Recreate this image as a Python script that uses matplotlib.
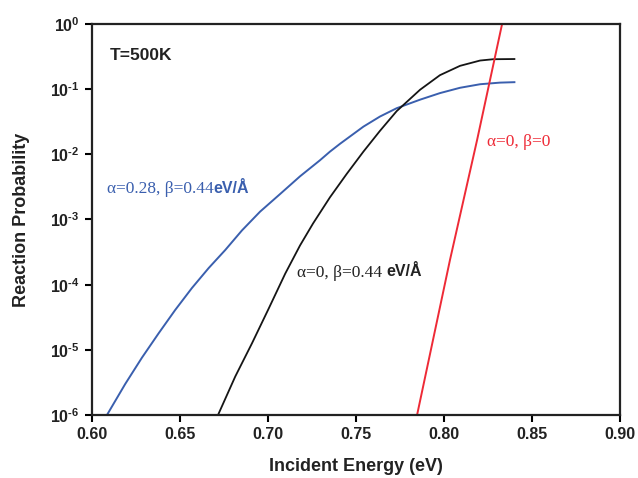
import numpy as np
import matplotlib
matplotlib.use('Agg')
import matplotlib.pyplot as plt

plt.rcParams['font.family'] = ['Liberation Sans', 'DejaVu Sans']
plt.rcParams['mathtext.fontset'] = 'custom'
plt.rcParams['mathtext.rm'] = 'Liberation Sans:bold'
plt.rcParams['mathtext.bf'] = 'Liberation Sans:bold'
plt.rcParams['axes.unicode_minus'] = False

# incident energy (eV) and reaction probability for each parameter set
energy_a028 = [0.6085, 0.6189, 0.6284, 0.6379, 0.6473, 0.6568, 0.6663, 0.6757,
               0.6852, 0.6955, 0.7068, 0.7182, 0.7295, 0.7352, 0.7409, 0.7542,
               0.7636, 0.7731, 0.7864, 0.7977, 0.8091, 0.8205, 0.8318, 0.840]
prob_a028 = [1.0e-6, 3.0e-6, 7.6e-6, 1.8e-5, 4.1e-5, 8.9e-5, 1.8e-4, 3.4e-4,
             6.8e-4, 1.32e-3, 2.45e-3, 4.6e-3, 8.1e-3, 1.1e-2, 1.45e-2, 2.66e-2,
             3.8e-2, 5.1e-2, 6.9e-2, 8.7e-2, 0.105, 0.119, 0.126, 0.128]

energy_a0 = [0.6716, 0.6814, 0.6909, 0.7004, 0.7098, 0.7182, 0.7256, 0.7352,
             0.7447, 0.7542, 0.7636, 0.7731, 0.7864, 0.7977, 0.8091, 0.8205,
             0.828, 0.840]
prob_a0 = [1.0e-6, 3.9e-6, 1.26e-5, 4.3e-5, 1.48e-4, 4.0e-4, 8.7e-4, 2.19e-3,
           5.0e-3, 1.1e-2, 2.29e-2, 4.6e-2, 0.098, 0.164, 0.228, 0.275,
           0.288, 0.290]

energy_b0 = [0.7847, 0.8034, 0.8188, 0.833]
prob_b0 = [1.0e-6, 2.4e-4, 1.66e-2, 1.0]

xticks = [0.60, 0.65, 0.70, 0.75, 0.80, 0.85, 0.90]
yticks = [1e-6, 1e-5, 1e-4, 1e-3, 1e-2, 1e-1, 1e0]

blue = '#3a5fae'
red = '#ee2a36'
serif = ['Liberation Serif', 'DejaVu Serif']


def decade_label(v):
    e = int(np.log10(v))
    if e < 0:
        return r'$\mathbf{10}^{\text{-}\mathbf{%d}}$' % -e
    return r'$\mathbf{10}^{\mathbf{%d}}$' % e


fig = plt.figure(figsize=(6.38, 4.78), dpi=100)
ax = fig.add_axes([0.1442, 0.1318, 0.8276, 0.818])

ax.plot(energy_a028, prob_a028, color=blue, lw=1.4)
ax.plot(energy_a0, prob_a0, color='#151515', lw=1.3)
ax.plot(energy_b0, prob_b0, color=red, lw=1.4)

ax.set_yscale('log')
ax.set_xlim(0.60, 0.90)
ax.set_ylim(1e-6, 1e0)
ax.set_xticks(xticks)
ax.set_xticklabels(['%.2f' % v for v in xticks], fontweight='bold', fontsize=11.5, color='#222222')
ax.set_yticks(yticks)
ax.set_yticklabels([decade_label(v) for v in yticks], fontsize=11.5, color='#222222')
ax.minorticks_off()
ax.tick_params(direction='out', length=5, width=1.5, top=False, right=False, pad=4)
for s in ax.spines.values():
    s.set_linewidth(1.6)
    s.set_color('#222222')

ax.set_xlabel('Incident Energy (eV)', fontsize=13, fontweight='bold', color='#222222', labelpad=11)
ax.set_ylabel('Reaction Probability', fontsize=13, fontweight='bold', color='#222222', labelpad=14)

ax.text(0.6102, 0.33, 'T=500K', fontsize=12.5, fontweight='bold', color='#222222', va='center')

# curve labels: greek part in serif, units in bold sans
t1 = ax.text(0.6085, 2.2e-3, 'α=0.28, β=0.44', fontsize=12.5, color=blue,
             family=serif, va='bottom')
ax.annotate('eV/Å', xy=(1, 0), xycoords=t1, xytext=(0, 1), textcoords='offset points',
            fontsize=11.5, fontweight='bold', color=blue, va='bottom', ha='left')

t2 = ax.text(0.7165, 1.15e-4, 'α=0, β=0.44 ', fontsize=12.5, color='#222222',
             family=serif, va='bottom')
ax.annotate('eV/Å', xy=(1, 0), xycoords=t2, xytext=(0, 1), textcoords='offset points',
            fontsize=11.5, fontweight='bold', color='#222222', va='bottom', ha='left')

ax.text(0.8244, 1.15e-2, 'α=0, β=0', fontsize=12.5, color=red, family=serif, va='bottom')

fig.savefig('out.png', dpi=100)
